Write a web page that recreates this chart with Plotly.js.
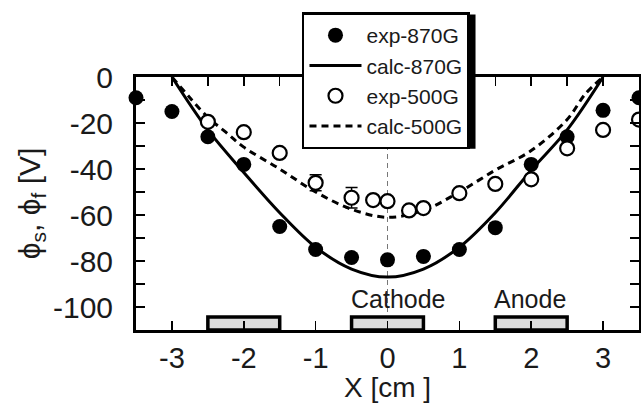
<!DOCTYPE html>
<html>
<head>
<meta charset="utf-8">
<script src="https://cdn.plot.ly/plotly-3.0.1.min.js"></script>
<style>html,body{margin:0;padding:0;background:#fff;}#chart{width:641px;height:403px;}</style>
</head>
<body>
<div id="chart"></div>
<script>
// ---- data ----
const xExp870 = [-3.5, -3, -2.5, -2, -1.5, -1, -0.5, 0, 0.5, 1, 1.5, 2, 2.5, 3, 3.5];
const yExp870 = [-9, -15, -26, -38, -65, -75, -78.5, -79.5, -78, -75, -65.5, -38, -26, -14.5, -9];

const xExp500 = [-2.5, -2, -1.5, -1, -0.5, -0.2, 0, 0.3, 0.5, 1, 1.5, 2, 2.5, 3, 3.5];
const yExp500 = [-19.5, -24, -33, -46, -52.5, -53.5, -54, -58, -57, -50.5, -46.5, -44.5, -31, -23, -18.5];
const errExp500 = [0, 0, 0, 3.5, 4.5, 0, 0, 0, 0, 0, 0, 0, 0, 0, 0];

const xCalc870 = [-3, -2.5, -2, -1.5, -1, -0.5, 0, 0.5, 1, 1.5, 2, 2.5, 3];
const yCalc870 = [0, -23, -41.5, -59, -74, -83.5, -87, -83.5, -74, -59, -40.5, -23, 0];

const xCalc500 = [-3, -2.75, -2.5, -2.25, -2, -1.5, -1, -0.5, 0, 0.5, 1, 1.5, 2, 2.5, 2.75, 3];
const yCalc500 = [0, -9, -17.5, -24, -30.5, -40, -50, -57.5, -61, -58, -50, -40.5, -32, -18.5, -7.5, 0];

const electrodeStart = [-2.5, -0.5, 1.5];
const electrodeEnd = [-1.5, 0.5, 2.5];
const electrodeLabels = ['', 'Cathode', 'Anode'];

const xTickVals = [-3, -2, -1, 0, 1, 2, 3];
const xTickText = ['-3', '-2', '-1', '0', '1', '2', '3'];
const yTickVals = [0, -20, -40, -60, -80, -100];
const yTickText = ['0', '-20', '-40', '-60', '-80', '-100'];

const names = ['exp-870G', 'calc-870G', 'exp-500G', 'calc-500G'];
const xTitle = 'X [cm ]';
const yTitle = 'ϕ<sub>s</sub>, ϕ<sub>f</sub> [V]';

// ---- chart ----
const FONT = 'Liberation Sans, Arial, Helvetica, sans-serif';
const traces = [
  {x: xCalc870, y: yCalc870, name: names[1], mode: 'lines', legendrank: 2,
   line: {color: '#000', width: 3, shape: 'spline', smoothing: 1}},
  {x: xCalc500, y: yCalc500, name: names[3], mode: 'lines', legendrank: 4,
   line: {color: '#000', width: 3, dash: '7px,5px', shape: 'spline', smoothing: 1}},
  {x: xExp870, y: yExp870, name: names[0], mode: 'markers', legendrank: 1, cliponaxis: false,
   marker: {symbol: 'circle', size: 15, color: '#000', line: {width: 0}}},
  {x: xExp500, y: yExp500, name: names[2], mode: 'markers', legendrank: 3, cliponaxis: false,
   error_y: {type: 'data', array: errExp500, visible: true, color: '#000', thickness: 1.5, width: 6},
   marker: {symbol: 'circle', size: 14, color: '#fff', line: {width: 2.2, color: '#000'}}}
];

const shapes = [
  {type: 'line', xref: 'x', yref: 'paper', x0: 0, x1: 0, y0: 0, y1: 1, layer: 'below',
   line: {color: '#777', width: 1, dash: '5px,4px'}},
  // drop shadow behind the legend box (legend is drawn above shapes)
  {type: 'rect', xref: 'paper', yref: 'paper', layer: 'above',
   x0: 0.338, x1: 0.675, y0: 0.716, y1: 1.247, fillcolor: '#000', line: {width: 0}}
];
const annotations = [];
for (let i = 0; i < electrodeStart.length; i++) {
  shapes.push({type: 'rect', xref: 'x', yref: 'y', x0: electrodeStart[i], x1: electrodeEnd[i],
    y0: -110, y1: -104.3, layer: 'below', fillcolor: '#dcdcdc', line: {color: '#000', width: 3.5}});
  if (electrodeLabels[i]) {
    annotations.push({x: electrodeStart[i], y: -96.5, xref: 'x', yref: 'y', text: electrodeLabels[i],
      showarrow: false, xanchor: 'left', yanchor: 'middle', xshift: -3,
      font: {family: FONT, size: 25, color: '#1a1a1a'}});
  }
}

const axisCommon = {
  showline: true, linewidth: 3, linecolor: '#000', mirror: 'ticks',
  ticks: 'inside', ticklen: 9, tickwidth: 1.5, tickcolor: '#000',
  showgrid: false, zeroline: false,
  tickfont: {family: FONT, size: 30, color: '#1a1a1a'}
};

const layout = {
  width: 641, height: 403,
  margin: {l: 136, r: 2, t: 77, b: 73, pad: 0},
  paper_bgcolor: '#fff', plot_bgcolor: '#fff',
  font: {family: FONT, color: '#1a1a1a'},
  showlegend: true,
  legend: {x: 0.33, y: 1.255, xanchor: 'left', yanchor: 'top',
    bgcolor: '#fff', bordercolor: '#000', borderwidth: 2.5, itemwidth: 52,
    font: {family: FONT, size: 21, color: '#1a1a1a'}},
  xaxis: Object.assign({}, axisCommon, {
    range: [-3.5, 3.5], tickmode: 'array', tickvals: xTickVals, ticktext: xTickText, ticklabelstandoff: 0,
    tickfont: {family: FONT, size: 29, color: '#1a1a1a'},
    minor: {tickmode: 'linear', tick0: 0, dtick: 0.5, ticks: 'inside', ticklen: 9, tickwidth: 1.5, tickcolor: '#000', showgrid: false},
    title: {text: xTitle, standoff: 7, font: {family: FONT, size: 28, color: '#1a1a1a'}}
  }),
  yaxis: Object.assign({}, axisCommon, {
    range: [-110, 0], tickmode: 'array', tickvals: yTickVals, ticktext: yTickText, ticklabelstandoff: 14,
    minor: {tickmode: 'linear', tick0: 0, dtick: 10, ticks: 'inside', ticklen: 9, tickwidth: 1.5, tickcolor: '#000', showgrid: false},
    title: {text: yTitle, standoff: 4, font: {family: FONT, size: 30, color: '#1a1a1a'}}
  }),
  shapes: shapes,
  annotations: annotations
};

Plotly.newPlot('chart', traces, layout, {staticPlot: true, displayModeBar: false});
</script>
</body>
</html>
